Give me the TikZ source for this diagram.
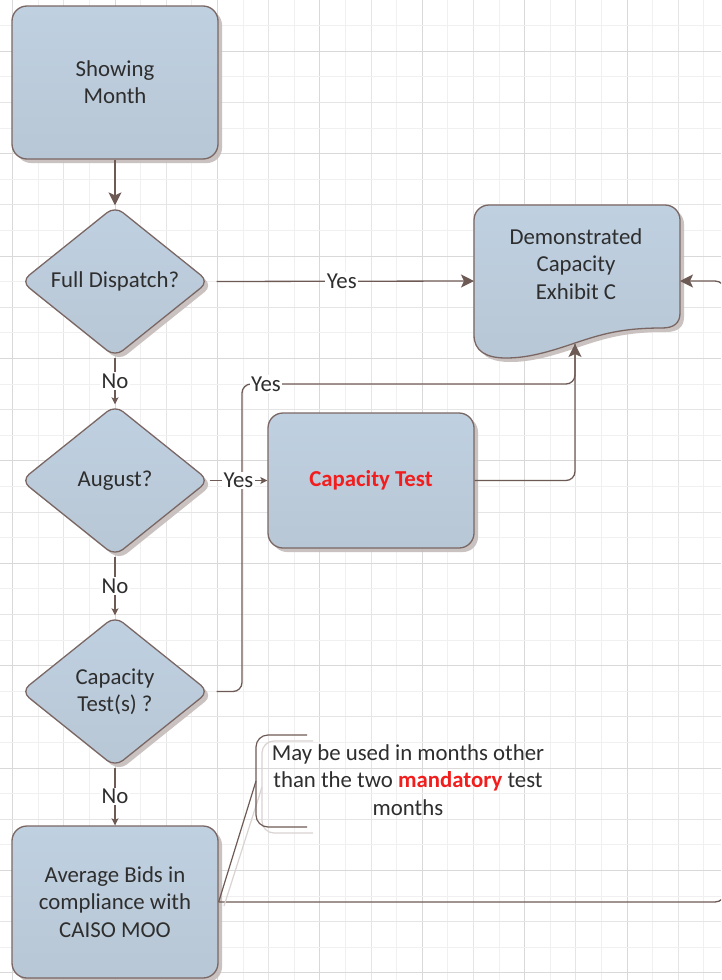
\documentclass[tikz,border=0pt]{standalone}
\usepackage{fontspec}
\setmainfont{Carlito}
\usetikzlibrary{shapes.geometric,shadows,arrows.meta}
\definecolor{bordc}{HTML}{7A6764}
\definecolor{connc}{HTML}{6E5A55}
\definecolor{fillt}{HTML}{BFD0E1}
\definecolor{fillb}{HTML}{B8C7D5}
\definecolor{shadc}{HTML}{C4BCBA}
\definecolor{txtc}{HTML}{2E2E2E}
\definecolor{redc}{HTML}{F21D1D}
\definecolor{gridA}{HTML}{F0F0F0}
\definecolor{gridB}{HTML}{E5E5E5}
\definecolor{gridC}{HTML}{D9D9D9}
\definecolor{annsh}{HTML}{DAD3D1}
\tikzset{
  shapebase/.style={draw=bordc, line width=1.3pt, top color=fillt, bottom color=fillb,
    drop shadow={shadow xshift=4pt, shadow yshift=-4pt, fill=shadc, opacity=0.9},
    text=txtc, align=center, inner sep=0pt},
  procbox/.style={shapebase, rectangle, rounded corners=15pt},
  decision/.style={shapebase, diamond, rounded corners=10pt, aspect=1.245,
    minimum width=188pt, minimum height=151pt},
  conn/.style={draw=connc, line width=1.3pt},
  bigarrow/.style={-{Stealth[width=13pt,length=13pt,inset=3pt]}},
  smallarrow/.style={-{Stealth[width=7pt,length=7pt,inset=1.5pt]}},
  lbl/.style={fill=white, inner sep=1.5pt, text=txtc},
  txt/.style={text=txtc, align=center, inner sep=0pt}
}
\begin{document}
\begin{tikzpicture}[x=1pt,y=-1pt,font=\fontsize{22.8}{27.3}\selectfont]
\useasboundingbox (0,0) rectangle (721,980);
\begin{scope}
\clip (0,0) rectangle (721,980);
\fill[white] (0,0) rectangle (721,980);
% grid
\foreach \i in {0,...,27}{
  \pgfmathsetmacro\gx{12.6+25.6*\i}
  \pgfmathtruncatemacro\gm{mod(\i,4)}
  \ifnum\gm=0 \def\gc{gridC}\else\ifodd\i \def\gc{gridA}\else\def\gc{gridB}\fi\fi
  \draw[draw=\gc, line width=1pt] (\gx,0) -- (\gx,980);
}
\foreach \k in {1,...,38}{
  \pgfmathsetmacro\gy{25.6*\k}
  \pgfmathtruncatemacro\gm{mod(\k,4)}
  \ifnum\gm=2 \def\gc{gridC}\else\ifodd\k \def\gc{gridA}\else\def\gc{gridB}\fi\fi
  \draw[draw=\gc, line width=1pt] (0,\gy) -- (721,\gy);
}

% nodes
\node[procbox, minimum width=206pt, minimum height=153pt] (sm) at (115,82.5) {Showing\\Month};
\node[decision] (fd) at (115,281.5) {Full Dispatch?};
\node[decision] (aug) at (115,480.5) {August?};
\node[decision] (cts) at (115,691.5) {Capacity\\Test(s) ?};
\node[procbox, minimum width=206pt, minimum height=152pt] (avg) at (115,902) {Average Bids in\\compliance with\\CAISO MOO};
\node[procbox, minimum width=206pt, minimum height=135pt, text=redc, font=\fontsize{22.8}{27.3}\selectfont\bfseries] (ct) at (371,480.5) {Capacity Test};

% document shape
\path[shapebase] (474,335) -- (474,220) .. controls (474,211.7) and (480.7,205) .. (489,205)
  -- (665,205) .. controls (673.3,205) and (680,211.7) .. (680,220)
  -- (680,313) .. controls (680,323) and (674,328) .. (662,328)
  .. controls (622,328) and (602,334) .. (575,343)
  .. controls (546,353) and (526,358) .. (506,358)
  .. controls (486,358) and (474,351) .. (474,335) -- cycle;
\node[txt] (demo) at (576,264) {Demonstrated\\Capacity\\Exhibit C};
\coordinate (docL) at (474,281);
\coordinate (docR) at (680,281);
\coordinate (docB) at (575,344);
\coordinate (j1) at (242,384);
\coordinate (rx) at (725,600);

% connectors
\draw[conn,bigarrow] (sm.south) -- (fd.north);
\draw[conn,bigarrow,shorten <=7pt] (fd.east) -- node[lbl]{Yes} (docL);
\draw[conn,smallarrow] (fd.south) -- node[lbl]{No} (aug.north);
\draw[conn,smallarrow] (aug.south) -- node[lbl]{No} (cts.north);
\draw[conn,smallarrow] (cts.south) -- node[lbl]{No} (avg.north);
\draw[conn,rounded corners=9pt,shorten <=7pt] (cts.east) -| (j1) -- (j1 -| docB) -- (docB);
\node[lbl] (yes3) at (266,384) {Yes};
\draw[conn,smallarrow] (aug.east) -- node[lbl]{Yes} (ct.west);
\draw[conn,bigarrow,rounded corners=9pt] (ct.east) -| (docB);
\draw[conn,bigarrow,rounded corners=10pt] (avg.east) -| (rx) |- (docR);

% annotation
\coordinate (brk) at (256,781);
\draw[draw=annsh, line width=1.2pt, rounded corners=12pt] (313,741) -- (262,741) -- (262,833) -- (313,833);
\draw[draw=annsh, line width=1.2pt] (262,787) -- (224,906);
\draw[conn, line width=1.2pt, rounded corners=12pt] (307,735) -- (256,735) -- (256,827) -- (307,827);
\draw[conn, line width=1.2pt] (brk) -- (avg.east);
\node[txt] (note) at (408,780) {May be used in months other\\than the two {\bfseries\color{redc}mandatory} test\\months};
\end{scope}
\end{tikzpicture}
\end{document}
